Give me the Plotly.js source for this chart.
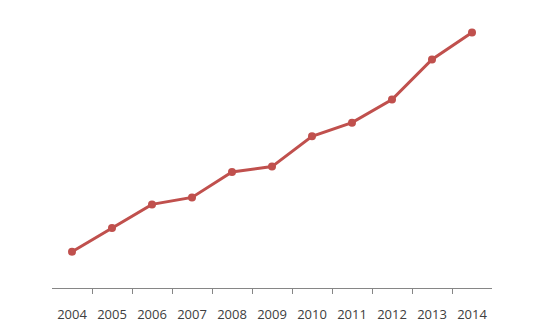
<!DOCTYPE html>
<html>
<head>
<meta charset="utf-8">
<script src="https://cdn.plot.ly/plotly-3.0.1.min.js"></script>
<style>html,body{margin:0;padding:0;background:#fff;}#chart{width:560px;height:336px;}</style>
</head>
<body>
<div id="chart"></div>
<script>
const years = ["2004","2005","2006","2007","2008","2009","2010","2011","2012","2013","2014"];
const values = [13.5, 22.4, 31.2, 33.8, 43.3, 45.3, 56.6, 61.7, 70.3, 85.3, 95.3];
const boundaryTicks = [0.5, 1.5, 2.5, 3.5, 4.5, 5.5, 6.5, 7.5, 8.5, 9.5];

const trace = {
  x: years,
  y: values,
  type: "scatter",
  mode: "lines+markers",
  line: {color: "#C0504D", width: 3},
  marker: {color: "#C0504D", size: 8},
  hoverinfo: "skip"
};

// empty helper trace so the boundary-tick axis is rendered
const tickHelper = {
  x: [],
  y: [],
  xaxis: "x2",
  yaxis: "y",
  type: "scatter",
  mode: "none",
  hoverinfo: "skip",
  showlegend: false
};

const layout = {
  width: 560,
  height: 336,
  margin: {l: 52, r: 68, t: 20, b: 48},
  paper_bgcolor: "#fff",
  plot_bgcolor: "#fff",
  showlegend: false,
  xaxis: {
    type: "category",
    range: [-0.5, 10.5],
    showline: true,
    linecolor: "#868686",
    linewidth: 1,
    ticks: "",
    showgrid: false,
    zeroline: false,
    ticklabelstandoff: 14,
    tickfont: {family: "Open Sans, sans-serif", size: 13, color: "#404040"}
  },
  xaxis2: {
    overlaying: "x",
    anchor: "y",
    side: "bottom",
    type: "linear",
    range: [-0.5, 10.5],
    tickmode: "array",
    tickvals: boundaryTicks,
    showticklabels: false,
    ticks: "outside",
    ticklen: 5,
    tickcolor: "#868686",
    showline: false,
    showgrid: false,
    zeroline: false
  },
  yaxis: {
    range: [0, 100],
    visible: false,
    showgrid: false,
    zeroline: false
  }
};

Plotly.newPlot("chart", [trace, tickHelper], layout, {displayModeBar: false, staticPlot: true});
</script>
</body>
</html>
